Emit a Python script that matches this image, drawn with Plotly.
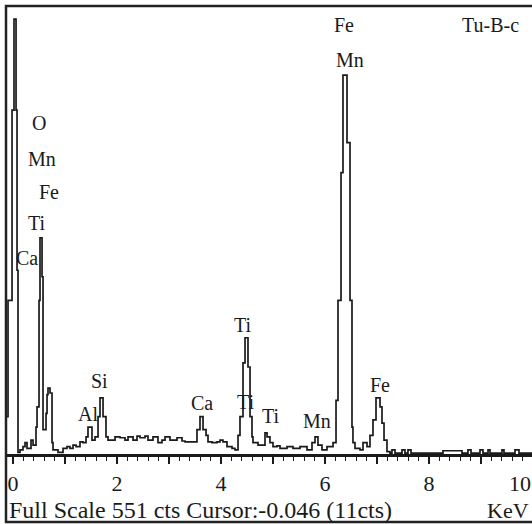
import plotly.graph_objects as go

# Channel left edges (keV) and counts
energy_kev = [-0.135, -0.096, -0.019, 0.019, 0.058, 0.077, 0.096, 0.135, 0.192, 0.231,
              0.269, 0.346, 0.385, 0.442, 0.462, 0.500, 0.519, 0.558, 0.577, 0.635,
              0.654, 0.673, 0.712, 0.750, 0.769, 0.865, 0.962, 1.038, 1.096, 1.154,
              1.212, 1.288, 1.346, 1.404, 1.442, 1.519, 1.577, 1.635, 1.673, 1.731,
              1.788, 1.827, 1.962, 2.058, 2.154, 2.212, 2.308, 2.385, 2.442, 2.538,
              2.596, 2.692, 2.788, 2.865, 2.923, 3.019, 3.154, 3.250, 3.308, 3.538,
              3.596, 3.654, 3.712, 3.750, 3.827, 3.923, 3.981, 4.038, 4.115, 4.212,
              4.269, 4.327, 4.365, 4.423, 4.462, 4.519, 4.558, 4.596, 4.615, 4.712,
              4.846, 4.885, 4.942, 5.000, 5.077, 5.135, 5.269, 5.385, 5.519, 5.654,
              5.750, 5.808, 5.865, 5.942, 6.038, 6.154, 6.212, 6.250, 6.308, 6.346,
              6.423, 6.481, 6.519, 6.538, 6.577, 6.673, 6.731, 6.808, 6.865, 6.923,
              6.981, 7.058, 7.096, 7.135, 7.192, 7.250, 7.288, 7.346, 7.481, 7.538,
              7.596, 7.654, 8.269, 8.635, 8.750, 8.808, 8.981, 9.038, 9.135, 9.173,
              9.404, 9.442, 9.654, 9.731, 10.0]
counts = [46, 189, 423, 535, 423, 226, 2, 5, 9, 14,
          7, 17, 11, 33, 58, 189, 266, 218, 30, 50,
          73, 81, 75, 14, 5, 2, 7, 9, 7, 11,
          9, 15, 14, 21, 33, 17, 21, 46, 69, 46,
          21, 17, 21, 20, 17, 21, 17, 22, 20, 22,
          17, 21, 14, 17, 21, 17, 20, 16, 15, 30,
          46, 30, 23, 15, 14, 15, 17, 15, 9, 7,
          5, 23, 46, 112, 143, 107, 46, 21, 14, 11,
          26, 21, 14, 9, 10, 7, 9, 7, 9, 5,
          14, 21, 11, 5, 9, 14, 66, 189, 346, 466,
          383, 189, 33, 14, 7, 5, 14, 9, 23, 42,
          69, 58, 38, 17, 3, 1, 5, 1, 5, 1,
          5, 1, 4, 1, 5, 1, 5, 1, 5, 1,
          5, 1, 5, 1, 1]
assert len(energy_kev) == len(counts)

tick_values = [0, 1, 2, 3, 4, 5, 6, 7, 8, 9]
tick_labels = ["0", "", "2", "", "4", "", "6", "", "8", ""]
last_tick_label = "10"

# Peak labels: (text, pixel x, pixel y) centres
peak_labels = [
    ("O", 39, 123), ("Mn", 42, 159), ("Fe", 49, 192), ("Ti", 37, 223), ("Ca", 27, 258),
    ("Fe", 344, 25), ("Mn", 350, 60), ("Tu-B-c", 490, 25),
    ("Si", 99, 381), ("Al", 88, 414), ("Ca", 202, 403),
    ("Ti", 243, 325), ("Ti", 246, 402), ("Ti", 271, 416), ("Mn", 317, 421), ("Fe", 380, 385),
]
footer_text = "Full Scale 551 cts Cursor:-0.046 (11cts)"
unit_text = "KeV"

W, H = 532, 524
FONT = "Liberation Serif"
INK = "#1a1a1a"


def pp(x, y):
    return x / W, 1 - y / H


fig = go.Figure()
fig.add_trace(go.Scatter(
    x=energy_kev, y=counts, mode="lines", line=dict(color=INK, width=1.7, shape="hv"),
    hoverinfo="skip", showlegend=False,
))

for txt, x, y in peak_labels:
    ax, ay = pp(x, y)
    fig.add_annotation(text=txt, x=ax, y=ay, xref="paper", yref="paper", showarrow=False,
                       xanchor="center", yanchor="middle",
                       font=dict(family=FONT, size=20, color=INK))

# "10" label at the right edge (kept inside the page)
tx, ty = pp(520, 483)
fig.add_annotation(text=last_tick_label, x=tx, y=ty, xref="paper", yref="paper",
                   showarrow=False, xanchor="center", yanchor="middle",
                   font=dict(family=FONT, size=22, color=INK))

fx, fy = pp(7, 510)
fig.add_annotation(text=footer_text, x=fx, y=fy, xref="paper", yref="paper", showarrow=False,
                   xanchor="left", yanchor="middle", font=dict(family=FONT, size=24, color=INK))
kx, ky = pp(531, 510)
fig.add_annotation(text=unit_text, x=kx, y=ky, xref="paper", yref="paper", showarrow=False,
                   xanchor="right", yanchor="middle", font=dict(family=FONT, size=22, color=INK))

# frame
fig.add_shape(type="rect", xref="paper", yref="paper",
              x0=6 / W, x1=1.02, y0=1 - 522 / H, y1=1 - 6 / H,
              line=dict(color="#222222", width=2.5), fillcolor="rgba(0,0,0,0)", layer="above")

fig.update_layout(
    width=W, height=H, margin=dict(l=0, r=0, t=0, b=0),
    paper_bgcolor="white", plot_bgcolor="white", hovermode=False,
    xaxis=dict(domain=[6 / W, 1], range=[-0.135, 9.981], showgrid=False, zeroline=False,
               showline=True, linecolor=INK, linewidth=2.5,
               tickmode="array", tickvals=tick_values, ticktext=tick_labels,
               ticks="outside", ticklen=7, tickwidth=1.5, tickcolor=INK,
               ticklabelstandoff=1,
               tickfont=dict(family=FONT, size=22, color=INK),
               minor=dict(dtick=0.2, tick0=0, ticks="outside", ticklen=4, tickwidth=1.3,
                          tickcolor=INK, showgrid=False)),
    yaxis=dict(domain=[70 / H, 1], range=[0, 558.4], visible=False, showgrid=False,
               zeroline=False),
)

fig.write_html("out.html", config={"displayModeBar": False, "staticPlot": True},
               post_script="document.body.style.margin='0';"
                           "document.body.style.overflow='hidden';")
